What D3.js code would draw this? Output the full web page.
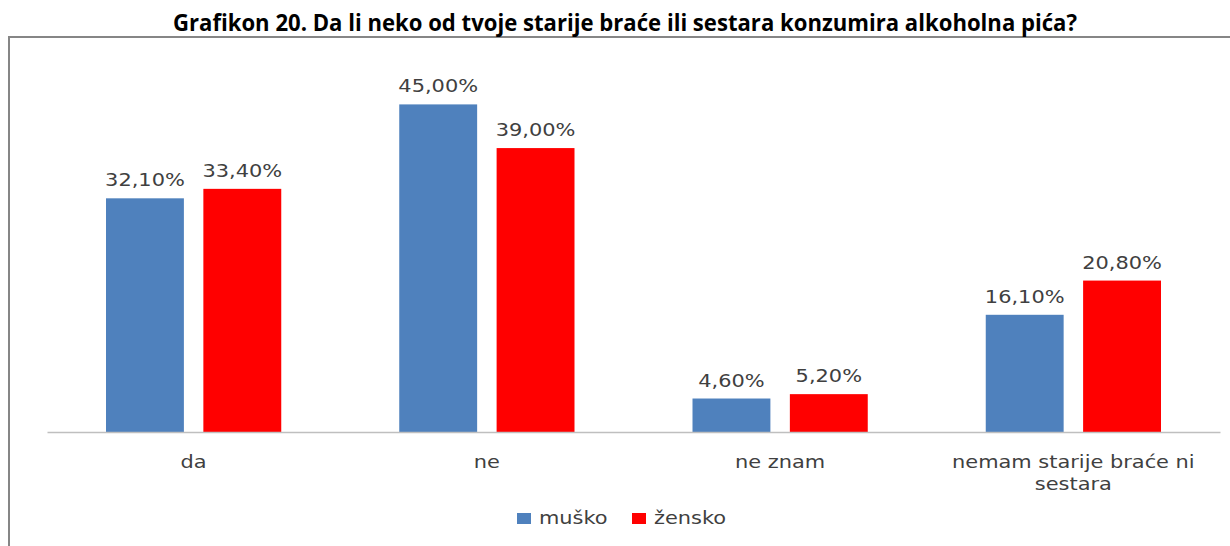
<!DOCTYPE html>
<html>
<head>
<meta charset="utf-8">
<script src="https://cdn.jsdelivr.net/npm/d3@7"></script>
<style>
  html, body { margin: 0; padding: 0; background: #fff; }
  svg { display: block; }
</style>
</head>
<body>
<svg id="chart" width="1230" height="546"></svg>
<script>
const title = "Grafikon 20. Da li neko od tvoje starije braće ili sestara konzumira alkoholna pića?";
const categories = ["da", "ne", "ne znam", "nemam starije braće ni sestara"];
const categoryLines = [["da"], ["ne"], ["ne znam"], ["nemam starije braće ni", "sestara"]];
const seriesNames = ["muško", "žensko"];
const musko = [32.1, 45.0, 4.6, 16.1];
const zensko = [33.4, 39.0, 5.2, 20.8];
const colors = ["#4F81BD", "#FF0000"];
const yDomain = [0, 50];

const svg = d3.select("#chart");
const W = 1230, H = 546;
const plot = { left: 47, right: 1220, top: 68, bottom: 432 };
const sx = 1.23; // horizontal text stretch
const labelFont = "'DejaVu Sans', Verdana, sans-serif";

// outer frame
svg.append("rect")
  .attr("x", 9).attr("y", 37)
  .attr("width", W + 20).attr("height", H)
  .attr("fill", "none").attr("stroke", "#868686").attr("stroke-width", 2);

// title
svg.append("text")
  .attr("x", 173).attr("y", 31)
  .attr("textLength", 904).attr("lengthAdjust", "spacingAndGlyphs")
  .attr("font-family", "'Open Sans', 'Liberation Sans', sans-serif")
  .attr("font-weight", "bold").attr("font-size", 23)
  .attr("fill", "#000")
  .text(title);

const x0 = d3.scaleBand().domain(categories).range([plot.left, plot.right]);
const bw = x0.bandwidth();
const x1 = d3.scaleBand().domain(seriesNames)
  .range([bw * 0.2012, bw * (1 - 0.2012)]).paddingInner(0.2);
const y = d3.scaleLinear().domain(yDomain).range([plot.bottom, plot.top]);

const data = [];
categories.forEach((c, i) => {
  data.push({ cat: c, s: seriesNames[0], v: musko[i], color: colors[0] });
  data.push({ cat: c, s: seriesNames[1], v: zensko[i], color: colors[1] });
});

// bars
svg.append("g").selectAll("rect").data(data).join("rect")
  .attr("x", d => x0(d.cat) + x1(d.s))
  .attr("y", d => y(d.v))
  .attr("width", x1.bandwidth())
  .attr("height", d => y(0) - y(d.v))
  .attr("fill", d => d.color);

// baseline (category axis)
const xAxis = d3.axisBottom(x0).tickSize(0).tickFormat("");
const ax = svg.append("g").attr("transform", `translate(0,${plot.bottom})`).call(xAxis);
ax.select(".domain").attr("stroke", "#BFBFBF").attr("stroke-width", 1.5);

const fmt = v => v.toFixed(2).replace(".", ",") + "%";

// value labels
svg.append("g").selectAll("g").data(data).join("g")
  .attr("transform", d => `translate(${x0(d.cat) + x1(d.s) + x1.bandwidth() / 2},${y(d.v) - 12}) scale(${sx},1)`)
  .append("text")
  .attr("text-anchor", "middle")
  .attr("font-family", labelFont).attr("font-size", 17)
  .attr("fill", "#404040")
  .text(d => fmt(d.v));

// category labels
categories.forEach((c, i) => {
  const g = svg.append("g")
    .attr("transform", `translate(${x0(c) + bw / 2},468) scale(${sx},1)`);
  categoryLines[i].forEach((line, j) => {
    g.append("text")
      .attr("y", j * 22)
      .attr("text-anchor", "middle")
      .attr("font-family", labelFont).attr("font-size", 17)
      .attr("fill", "#404040")
      .text(line);
  });
});

// legend
const legendX = [517, 632];
seriesNames.forEach((s, i) => {
  svg.append("rect")
    .attr("x", legendX[i]).attr("y", 513)
    .attr("width", 14).attr("height", 11)
    .attr("fill", colors[i]);
  svg.append("g")
    .attr("transform", `translate(${legendX[i] + 22},524) scale(${sx},1)`)
    .append("text")
    .attr("font-family", labelFont).attr("font-size", 17)
    .attr("fill", "#404040")
    .text(s);
});
</script>
</body>
</html>
